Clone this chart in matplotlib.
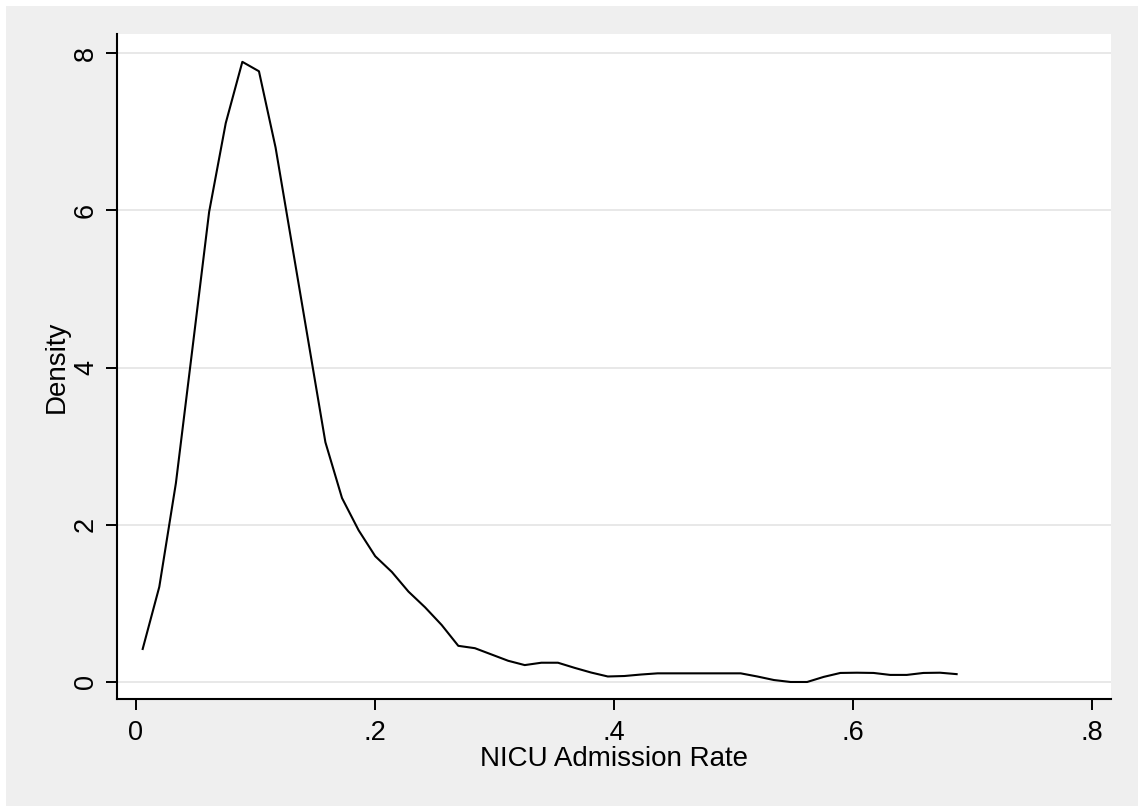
import matplotlib
matplotlib.use("Agg")
import matplotlib.pyplot as plt
from matplotlib.patches import Rectangle

plt.rcParams['font.family'] = ['Liberation Sans', 'DejaVu Sans']

# kernel density estimate
rate = [0.0056, 0.0195, 0.0334, 0.0473, 0.0612, 0.0751, 0.0890, 0.1029, 0.1168, 0.1307,
        0.1446, 0.1585, 0.1724, 0.1863, 0.2002, 0.2141, 0.2280, 0.2419, 0.2558, 0.2697,
        0.2836, 0.2975, 0.3114, 0.3253, 0.3392, 0.3531, 0.3670, 0.3809, 0.3948, 0.4087,
        0.4226, 0.4365, 0.4504, 0.4643, 0.4782, 0.4921, 0.5060, 0.5199, 0.5338, 0.5477,
        0.5616, 0.5755, 0.5894, 0.6033, 0.6172, 0.6311, 0.6450, 0.6589, 0.6728, 0.6867]
density = [0.42, 1.21, 2.53, 4.25, 5.98, 7.11, 7.89, 7.77, 6.80, 5.55,
           4.30, 3.05, 2.34, 1.93, 1.60, 1.40, 1.15, 0.95, 0.725, 0.46,
           0.43, 0.35, 0.27, 0.215, 0.245, 0.245, 0.18, 0.12, 0.07, 0.076,
           0.095, 0.11, 0.11, 0.11, 0.11, 0.11, 0.11, 0.07, 0.025, 0.0,
           0.0, 0.065, 0.115, 0.118, 0.115, 0.09, 0.09, 0.115, 0.118, 0.10]

xticks = [0, 0.2, 0.4, 0.6, 0.8]
xticklabels = ['0', '.2', '.4', '.6', '.8']
yticks = [0, 2, 4, 6, 8]
yticklabels = ['0', '2', '4', '6', '8']

bg = '#efefef'
fig = plt.figure(figsize=(11.38, 8.06), dpi=100, facecolor=bg)
# thin white edge along top and left, as in the exported graph
fig.patches.append(Rectangle((0, 0.9926), 1, 0.0074, transform=fig.transFigure,
                             facecolor='white', edgecolor='none'))
fig.patches.append(Rectangle((0, 0), 0.0053, 1, transform=fig.transFigure,
                             facecolor='white', edgecolor='none'))

ax = fig.add_axes([0.1028, 0.1328, 0.8735, 0.8250])
ax.set_facecolor('white')

ax.plot(rate, density, color='black', lw=1.5, zorder=3)

ax.set_xlim(-0.0159, 0.8159)
ax.set_ylim(-0.216, 8.244)

ax.set_xticks(xticks)
ax.set_xticklabels(xticklabels)
ax.set_yticks(yticks)
ax.set_yticklabels(yticklabels, rotation=90, va='center')

ax.yaxis.grid(True, color='#e6e6e6', lw=1.3)
ax.set_axisbelow(True)

for side in ['top', 'right']:
    ax.spines[side].set_visible(False)
for side in ['left', 'bottom']:
    ax.spines[side].set_linewidth(1.5)

ax.tick_params(axis='both', direction='out', length=8, width=1.4, labelsize=19.5, colors='black')
ax.tick_params(axis='x', pad=7)
ax.tick_params(axis='y', pad=5)

ax.set_xlabel('NICU Admission Rate', fontsize=20, labelpad=0)
ax.set_ylabel('Density', fontsize=20, labelpad=2)

fig.savefig('out.png', dpi=100, facecolor=bg)
